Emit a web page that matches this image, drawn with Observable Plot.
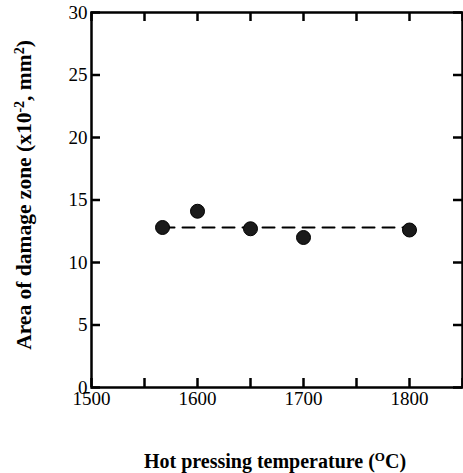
<!DOCTYPE html>
<html><head><meta charset="utf-8">
<script src="https://cdn.jsdelivr.net/npm/d3@7"></script>
<script src="https://cdn.jsdelivr.net/npm/@observablehq/plot@0.6"></script>
<style>body{margin:0;background:#fff}</style>
</head><body><div id="chart"></div>
<script>
const temps = [1567, 1600, 1650, 1700, 1800];
const areas = [12.8, 14.1, 12.7, 12.0, 12.6];
const fitTemps = [1567, 1800];
const fitAreas = [12.8, 12.8];
const xTickLabels = [1500, 1600, 1700, 1800];
const xTickMarks = [1500, 1550, 1600, 1650, 1700, 1750, 1800, 1850];
const yTicks = [0, 5, 10, 15, 20, 25, 30];

const pts = temps.map((t, i) => ({t, a: areas[i]}));
const fit = fitTemps.map((t, i) => ({t, a: fitAreas[i]}));

const W = 463, H = 473, ML = 91, MR = 1, MT = 12, MB = 86;
const plotW = W - ML - MR, plotH = H - MT - MB, TL = 9;

const chart = Plot.plot({
  width: W, height: H,
  marginLeft: ML, marginRight: MR, marginTop: MT, marginBottom: MB,
  x: {domain: [1500, 1850]},
  y: {domain: [0, 30]},
  style: {fontFamily: "Liberation Serif", fontSize: "19px", color: "black", background: "white"},
  marks: [
    Plot.ruleX(xTickMarks, {x: d => d, insetTop: plotH - TL, stroke: "black", strokeWidth: 2.5}),
    Plot.ruleX(xTickMarks, {x: d => d, insetBottom: plotH - TL, stroke: "black", strokeWidth: 2.5}),
    Plot.ruleY(yTicks, {y: d => d, insetRight: plotW - TL, stroke: "black", strokeWidth: 2.5}),
    Plot.ruleY(yTicks, {y: d => d, insetLeft: plotW - TL, stroke: "black", strokeWidth: 2.5}),
    Plot.axisX(xTickLabels, {anchor: "bottom", tickSize: 0, tickPadding: 4, label: null, tickFormat: d3.format("d"), fontSize: 19}),
    Plot.axisY(yTicks, {anchor: "left", tickSize: 0, tickPadding: 4, label: null, fontSize: 19}),
    Plot.frame({stroke: "black", strokeWidth: 2.5}),
    Plot.line(fit, {x: "t", y: "a", stroke: "black", strokeWidth: 2, strokeDasharray: "12,8"}),
    Plot.dot(pts, {x: "t", y: "a", r: 7, fill: "#1a1a1a", stroke: "black", strokeWidth: 1})
  ]
});
document.getElementById("chart").append(chart);

const svg = d3.select(chart);
const xt = svg.append("text")
  .attr("x", 275).attr("y", 468)
  .attr("text-anchor", "middle")
  .style("font-family", "Liberation Serif").style("font-size", "20px").style("font-weight", "bold")
  .attr("fill", "black");
xt.append("tspan").text("Hot pressing temperature (");
xt.append("tspan").attr("dy", -7).style("font-size", "13px").text("O");
xt.append("tspan").attr("dy", 7).text("C)");

const yt = svg.append("text")
  .attr("transform", "translate(31,195) rotate(-90)")
  .attr("text-anchor", "middle")
  .style("font-family", "Liberation Serif").style("font-size", "21.5px").style("font-weight", "bold")
  .attr("fill", "black");
yt.append("tspan").text("Area of damage zone (x10");
yt.append("tspan").attr("dy", -7).style("font-size", "14px").text("-2");
yt.append("tspan").attr("dy", 7).text(", mm");
yt.append("tspan").attr("dy", -7).style("font-size", "14px").text("2");
yt.append("tspan").attr("dy", 7).text(")");
</script></body></html>
